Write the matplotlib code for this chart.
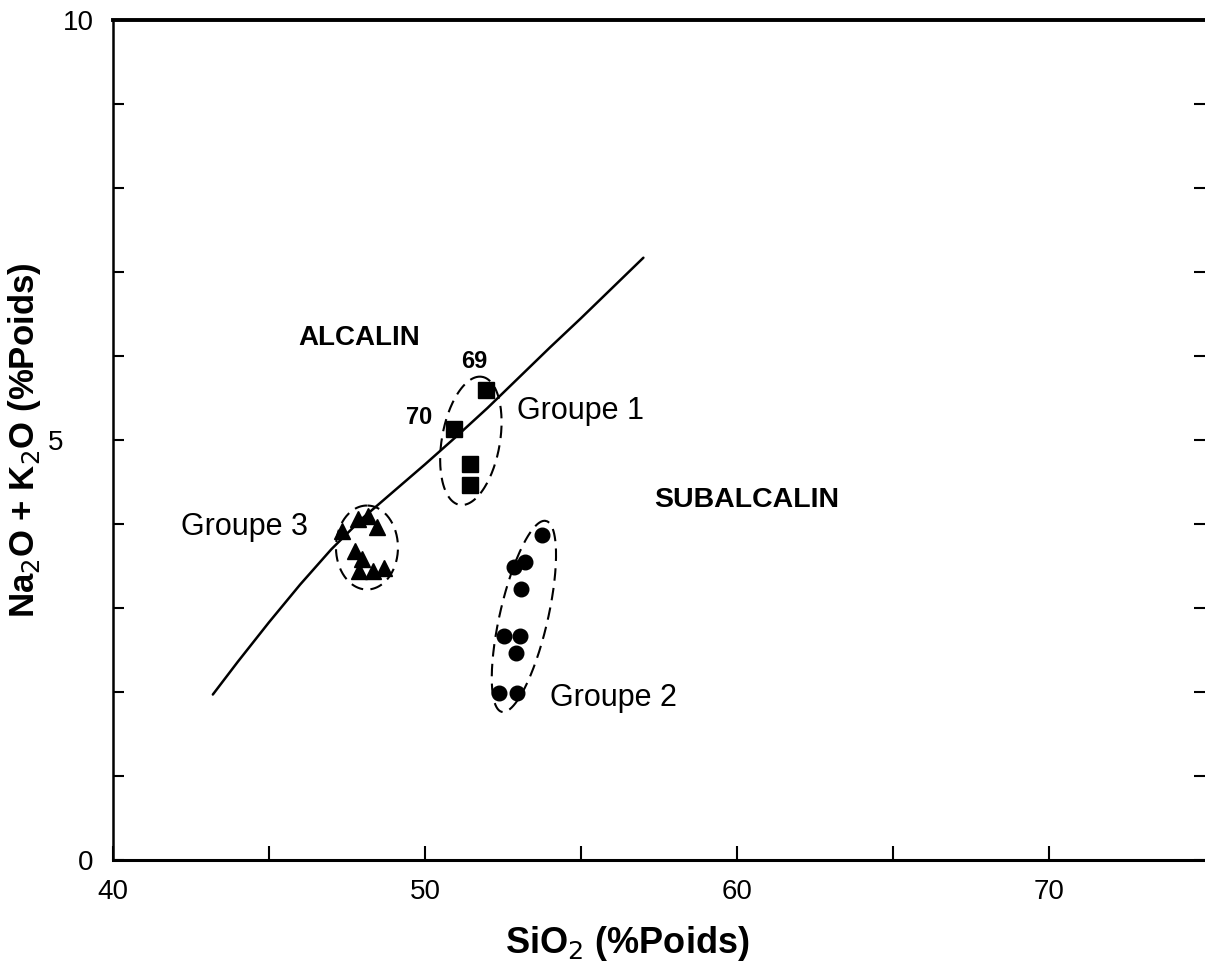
import numpy as np
import matplotlib
matplotlib.use("Agg")
import matplotlib.pyplot as plt
from matplotlib.transforms import ScaledTranslation

plt.rcParams['font.family'] = ['Liberation Sans', 'DejaVu Sans']

# limite alcalin / subalcalin
limit_sio2 = [43.2, 44, 45, 46, 47, 48, 49, 50, 51, 52, 53, 54, 55, 56, 57]
limit_alk = [1.97, 2.36, 2.83, 3.28, 3.70, 4.07, 4.39, 4.71, 5.04, 5.38,
             5.74, 6.10, 6.45, 6.81, 7.17]

# Groupe 1 (carres)
g1_sio2 = [51.95, 50.93, 51.44, 51.44]
g1_alk = [5.60, 5.13, 4.71, 4.46]

# Groupe 2 (ronds)
g2_sio2 = [53.74, 52.84, 53.19, 53.07, 52.52, 53.04, 52.91, 52.36, 52.94]
g2_alk = [3.87, 3.49, 3.55, 3.23, 2.67, 2.67, 2.46, 1.99, 1.99]

# Groupe 3 (triangles)
g3_sio2 = [47.35, 47.86, 48.18, 48.47, 47.76, 47.99, 47.89, 48.34, 48.69]
g3_alk = [3.92, 4.06, 4.09, 3.97, 3.68, 3.58, 3.44, 3.44, 3.48]

# enveloppes: centre (SiO2, alcalins), demi-axes en pixels, angle
envelopes = [
    (51.47, 4.99, 65, 29, 80),
    (53.17, 2.90, 98, 24, 77),
    (48.14, 3.72, 42, 31, 90),
]

fig = plt.figure(figsize=(12.05, 9.69), dpi=100)
ax = fig.add_axes([113 / 1205, 1 - 860 / 969, 1 - 113 / 1205, (860 - 20) / 969])
ax.set_xlim(40, 75)
ax.set_ylim(0, 10)

ax.plot(limit_sio2, limit_alk, color='black', lw=1.8, solid_capstyle='round',
        solid_joinstyle='round')
ax.plot(g1_sio2, g1_alk, 's', color='black', ms=11)
ax.plot(g2_sio2, g2_alk, 'o', color='black', ms=10.5)
ax.plot(g3_sio2, g3_alk, '^', color='black', ms=11.5)

# enveloppes tiretees tracees en pixels puis ramenees aux donnees
inv = ax.transData.inverted()
t = np.linspace(0, 2 * np.pi, 200)
for cx, cy, a, b, ang in envelopes:
    c = ax.transData.transform((cx, cy))
    th = np.radians(ang)
    px = c[0] + a * np.cos(t) * np.cos(th) - b * np.sin(t) * np.sin(th)
    py = c[1] + a * np.cos(t) * np.sin(th) + b * np.sin(t) * np.cos(th)
    pts = inv.transform(np.column_stack([px, py]))
    ax.plot(pts[:, 0], pts[:, 1], color='black', lw=1.5, dashes=(6, 3.5))

ax.text(47.9, 6.22, 'ALCALIN', fontsize=20, fontweight='bold', ha='center', va='center')
ax.text(60.3, 4.29, 'SUBALCALIN', fontsize=20.5, fontweight='bold', ha='center', va='center')
ax.text(54.98, 5.34, 'Groupe 1', fontsize=22, ha='center', va='center')
ax.text(56.04, 1.93, 'Groupe 2', fontsize=22, ha='center', va='center')
ax.text(44.22, 3.96, 'Groupe 3', fontsize=22, ha='center', va='center')
ax.text(51.57, 5.94, '69', fontsize=17, fontweight='bold', ha='center', va='center')
ax.text(49.81, 5.27, '70', fontsize=17, fontweight='bold', ha='center', va='center')

ax.set_xticks([40, 45, 50, 55, 60, 65, 70])
ax.set_xticklabels(['40', '', '50', '', '60', '', '70'])
ax.set_yticks(range(0, 11))
ax.set_yticklabels(['0', '', '', '', '', '5', '', '', '', '', '10'])
ax.tick_params(axis='x', direction='in', length=10, width=1.5, labelsize=20, pad=14)
ax.tick_params(axis='y', direction='in', length=8, width=1.5, labelsize=20, pad=14,
               right=True)
for lbl in ax.get_yticklabels():
    if lbl.get_text() == '5':
        lbl.set_transform(lbl.get_transform() + ScaledTranslation(-0.3, 0, fig.dpi_scale_trans))

ax.spines['right'].set_visible(False)
ax.spines['left'].set_linewidth(1.8)
ax.spines['bottom'].set_linewidth(2.2)
ax.spines['top'].set_linewidth(2.8)

ax.set_xlabel('SiO$_2$ (%Poids)', fontsize=26, fontweight='bold')
ax.xaxis.set_label_coords(0.471, -0.076)
ax.set_ylabel('Na$_2$O + K$_2$O (%Poids)', fontsize=25, fontweight='bold')
ax.yaxis.set_label_coords(-0.064, 0.5)

fig.savefig('out.png', dpi=100)
